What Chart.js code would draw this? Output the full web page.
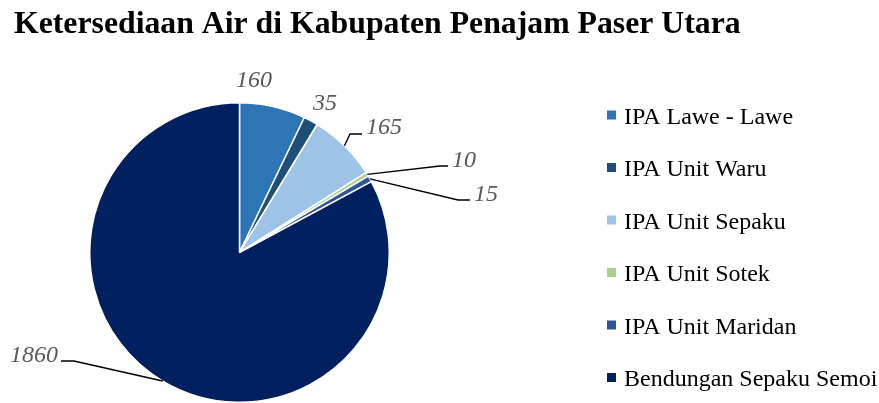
<!DOCTYPE html>
<html>
<head>
<meta charset="utf-8">
<script src="https://cdn.jsdelivr.net/npm/chart.js@4.4.1/dist/chart.umd.min.js"></script>
<style>
    html, body { margin: 0; padding: 0; background: #fff; }
    #wrap { position: relative; width: 879px; height: 403px; }
</style>
</head>
<body>
<div id="wrap"><canvas id="pieChart"></canvas></div>
<script>
// Data
const categories = ['IPA Lawe - Lawe', 'IPA Unit Waru', 'IPA Unit Sepaku', 'IPA Unit Sotek', 'IPA Unit Maridan', 'Bendungan Sepaku Semoi'];
const values = [160, 35, 165, 10, 15, 1860];
const colors = ['#2E75B6', '#1F4E79', '#9DC3E6', '#A9D18E', '#2F5597', '#002060'];
const chartTitle = 'Ketersediaan Air di Kabupaten Penajam Paser Utara';

// Label placement (text centre x, baseline y, optional leader bend) - layout only
const labelLayout = [
    { x: 254, y: 87 },
    { x: 325, y: 110 },
    { x: 384, y: 134, bend: [[350, 134], [362, 134]] },
    { x: 464, y: 167, bend: [[440, 166], [448, 166]] },
    { x: 486, y: 201, bend: [[458, 200], [470, 200]] },
    { x: 34, y: 362, bend: [[74, 361], [61, 361]] }
];

// Title, labels and legend
const decorPlugin = {
    id: 'decor',
    afterDraw(chart) {
        const ctx = chart.ctx;
        ctx.save();

        // title, sized to match width
        let size = 30;
        ctx.font = 'bold ' + size + 'px "Liberation Serif"';
        size = size * 727 / ctx.measureText(chartTitle).width;
        ctx.font = 'bold ' + size + 'px "Liberation Serif"';
        ctx.fillStyle = '#000';
        ctx.textBaseline = 'alphabetic';
        ctx.textAlign = 'left';
        ctx.fillText(chartTitle, 14, 33);

        // data labels + leader lines
        const arcs = chart.getDatasetMeta(0).data;
        ctx.font = 'italic 24px "Liberation Serif"';
        ctx.textAlign = 'center';
        arcs.forEach((arc, i) => {
            const lay = labelLayout[i];
            if (lay.bend) {
                const mid = (arc.startAngle + arc.endAngle) / 2;
                const ax = arc.x + Math.cos(mid) * arc.outerRadius;
                const ay = arc.y + Math.sin(mid) * arc.outerRadius;
                ctx.beginPath();
                ctx.strokeStyle = '#000';
                ctx.lineWidth = 1.4;
                ctx.moveTo(ax, ay);
                lay.bend.forEach(p => ctx.lineTo(p[0], p[1]));
                ctx.stroke();
            }
            ctx.fillStyle = '#595959';
            ctx.fillText(String(values[i]), lay.x, lay.y);
        });

        // legend
        ctx.font = '24px "Liberation Serif"';
        ctx.textAlign = 'left';
        categories.forEach((name, i) => {
            const base = 123.5 + i * 52.5;
            ctx.fillStyle = colors[i];
            ctx.fillRect(607, base - 13, 9, 9);
            ctx.fillStyle = '#000';
            ctx.fillText(name, 624, base);
        });

        ctx.restore();
    }
};

const ctx = document.getElementById('pieChart').getContext('2d');
new Chart(ctx, {
    type: 'pie',
    data: {
        labels: categories,
        datasets: [{
            data: values,
            backgroundColor: colors,
            borderColor: '#ffffff',
            borderWidth: 1.5
        }]
    },
    options: {
        responsive: true,
        maintainAspectRatio: false,
        animation: false,
        layout: {
            padding: { left: 88, right: 488, top: 102, bottom: -2 }
        },
        plugins: {
            legend: { display: false },
            title: { display: false },
            tooltip: { enabled: false }
        }
    },
    plugins: [decorPlugin]
});
</script>
</body>
</html>
